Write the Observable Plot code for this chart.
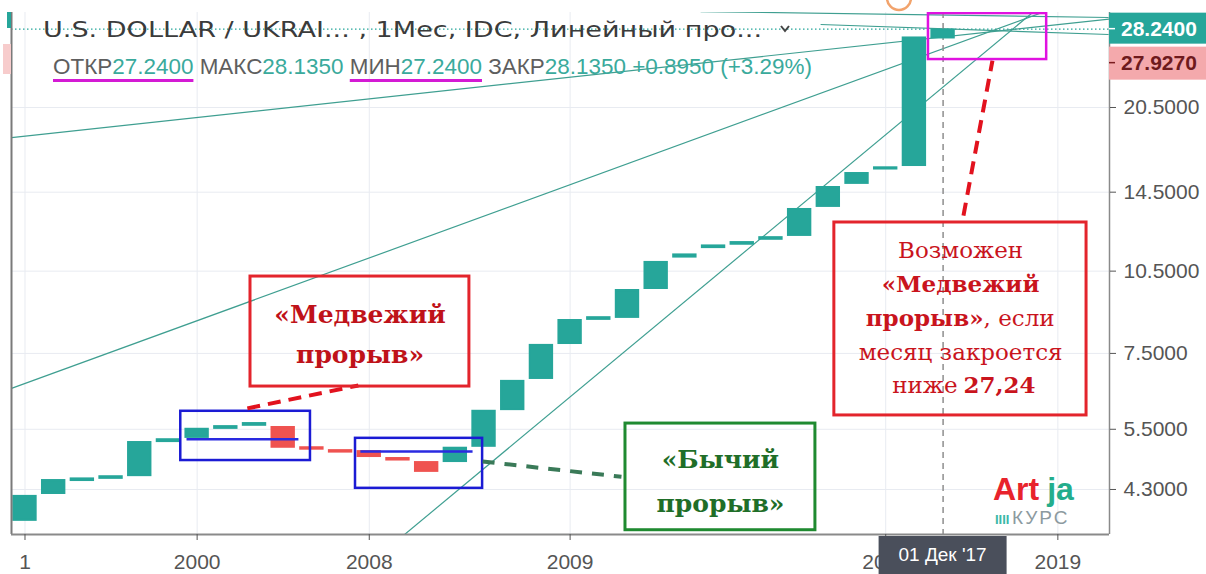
<!DOCTYPE html>
<html>
<head>
<meta charset="utf-8">
<script src="https://cdn.jsdelivr.net/npm/d3@7"></script>
<script src="https://cdn.jsdelivr.net/npm/@observablehq/plot@0.6"></script>
<style>
html, body { margin: 0; padding: 0; background: #ffffff; }
#chart { width: 1206px; height: 574px; overflow: hidden; }
</style>
</head>
<body>
<div id="chart"></div>
<script>
// ---------------- data ----------------
const brickIndex = [0,1,2,3,4,5,6,7,8,9,10,11,12,13,14,15,16,17,18,19,20,21,22,23,24,25,26,27,28,29,30,31,32];
const brickOpen  = [3.79,4.23,4.46,4.50,4.55,5.23,5.32,5.52,5.59,5.54,5.10,5.04,5.02,4.88,4.80,4.82,5.13,5.96,6.77,7.81,8.62,8.69,9.78,11.12,11.56,11.72,11.96,12.15,13.68,15.03,15.94,16.17,27.24];
const brickClose = [4.18,4.46,4.49,4.53,5.21,5.27,5.50,5.56,5.63,5.11,5.07,5.01,4.92,4.85,4.63,5.09,5.92,6.69,7.75,8.58,8.68,9.70,10.88,11.22,11.64,11.80,12.04,13.51,14.78,15.65,16.02,27.24,28.135];

const yTickValues = [4.3, 5.5, 7.5, 10.5, 14.5, 20.5];
const xTickPos    = [0, 6, 12, 19, 30, 36];
const xTickLabels = ["1", "2000", "2008", "2009", "2015", "2019"];

const lastPrice  = 28.24;
const markPrice  = 27.927;
const crossIdx   = 32;
const crossLabel = "01 Дек '17";

const legendTitle  = "U.S. DOLLAR / UKRAI... , 1Мес, IDC, Линейный про...";
const legendNames  = ["ОТКР", "МАКС", "МИН", "ЗАКР"];
const legendValues = ["27.2400", "28.1350", "27.2400", "28.1350"];
const legendChange = "+0.8950 (+3.29%)";

// trend lines: [index1, price1, index2, price2]
const trendLines = [
  [-0.47, 18.13, 37.80, 29.44],
  [-0.47, 6.50, 35.74, 30.6],
  [12.74, 3.41, 35.40, 31.06],
  [23.55, 30.35, 37.77, 29.62],
  [27.73, 28.78, 37.77, 27.63]
];

// annotation boxes: [index1, index2, price1, price2]
const redBoxes     = [[7.86, 15.49, 6.55, 10.27], [28.21, 37.00, 5.82, 12.81]];
const greenBoxes   = [[20.93, 27.55, 3.64, 5.63]];
const blueBoxes    = [[5.43, 9.95, 4.84, 5.92], [11.52, 15.95, 4.32, 5.30]];
const magentaBoxes = [[31.49, 35.61, 24.94, 30.1]];

// annotation segments: [index1, price1, index2, price2]
const blueSegments  = [[5.63, 5.28, 9.53, 5.28], [11.69, 5.02, 15.6, 5.02]];
const redDashes     = [[7.75, 5.99, 11.62, 6.58], [32.71, 13.18, 33.72, 24.84]];
const greenDashes   = [[15.95, 4.82, 20.79, 4.53]];

// annotation texts: [text, index, price]
const bearLabel = [["«Медвежий\nпрорыв»", 11.68, 8.24]];
const bullLabel = [["«Бычий\nпрорыв»", 24.24, 4.55]];
const noteMidRegular  = [["Возможен", 32.61, 11.42], ["месяц закроется", 32.61, 7.53]];
const noteMidBold     = [["«Медвежий", 32.61, 9.94]];
const noteEndBold     = [["прорыв»", 33.41, 8.65]];
const noteStartRegular= [[", если", 33.41, 8.65]];
const noteEndRegular  = [["ниже", 32.61, 6.58]];
const noteStartBold   = [["27,24", 32.61, 6.58]];

// ---------------- chart ----------------
const xDomain = [-0.47, 37.80];
const yDomain = [3.577, 30.23];
const teal = "#26a69a", red = "#ef5350";
const bricks = brickIndex.map((i, k) => ({i, open: brickOpen[k], close: brickClose[k]}));
const upBricks = bricks.filter(d => d.close >= d.open);
const downBricks = bricks.filter(d => d.close < d.open);
const hw = 0.39;
const seg = a => a.map(r => ({x1: r[0], y1: r[1], x2: r[2], y2: r[3]}));
const box = a => a.map(r => ({x1: r[0], x2: r[1], y1: r[2], y2: r[3]}));
const txt = a => a.map(r => ({t: r[0], x: r[1], y: r[2]}));
const serif = "'DejaVu Serif', serif";
const noteRed = "#c9141d";

const plot = Plot.plot({
  width: 1206, height: 574,
  marginLeft: 11, marginRight: 97, marginTop: 12, marginBottom: 40,
  style: {fontFamily: "'Liberation Sans', Arial, sans-serif", fontSize: "21px", background: "#ffffff", color: "#555"},
  x: {domain: xDomain},
  y: {type: "log", domain: yDomain},
  marks: [
    Plot.gridY(yTickValues, {stroke: "#e8ebf1", strokeOpacity: 1}),
    Plot.gridX(xTickPos, {stroke: "#e8ebf1", strokeOpacity: 1}),
    Plot.ruleY([lastPrice], {stroke: teal, strokeWidth: 1.2, strokeDasharray: "1.5,2.5"}),
    Plot.link(seg(trendLines), {x1: "x1", y1: "y1", x2: "x2", y2: "y2", stroke: "#3f9f91", strokeWidth: 1.2, clip: true}),
    Plot.ruleX([crossIdx], {stroke: "#8e8e8e", strokeWidth: 1.5, strokeDasharray: "6,5"}),
    Plot.rect(upBricks, {x1: d => d.i - hw, x2: d => d.i + hw, y1: "open", y2: "close", fill: teal, stroke: teal, strokeWidth: 2}),
    Plot.rect(downBricks, {x1: d => d.i - hw, x2: d => d.i + hw, y1: "open", y2: "close", fill: red, stroke: red, strokeWidth: 2}),
    Plot.link(seg(blueSegments), {x1: "x1", y1: "y1", x2: "x2", y2: "y2", stroke: "#2a2ae0", strokeWidth: 2.5}),
    Plot.rect(box(blueBoxes), {x1: "x1", x2: "x2", y1: "y1", y2: "y2", fill: "none", stroke: "#1b1bd4", strokeWidth: 2.5}),
    Plot.link(seg(redDashes), {x1: "x1", y1: "y1", x2: "x2", y2: "y2", stroke: "#e2121e", strokeWidth: 4, strokeDasharray: "13,8"}),
    Plot.link(seg(greenDashes), {x1: "x1", y1: "y1", x2: "x2", y2: "y2", stroke: "#3a7a58", strokeWidth: 4, strokeDasharray: "12,10"}),
    Plot.rect(box(redBoxes), {x1: "x1", x2: "x2", y1: "y1", y2: "y2", fill: "none", stroke: "#e3242c", strokeWidth: 3}),
    Plot.rect(box(greenBoxes), {x1: "x1", x2: "x2", y1: "y1", y2: "y2", fill: "none", stroke: "#1f8a30", strokeWidth: 3}),
    Plot.rect(box(magentaBoxes), {x1: "x1", x2: "x2", y1: "y1", y2: "y2", fill: "none", stroke: "#e012e0", strokeWidth: 2.5, clip: true}),
    Plot.text(txt(bearLabel), {x: "x", y: "y", text: "t", fontFamily: serif, fontWeight: "bold", fontSize: 25, fill: "#bf1219", lineHeight: 1.6}),
    Plot.text(txt(bullLabel), {x: "x", y: "y", text: "t", fontFamily: serif, fontWeight: "bold", fontSize: 25, fill: "#1f6e28", lineHeight: 1.75}),
    Plot.text(txt(noteMidRegular), {x: "x", y: "y", text: "t", fontFamily: serif, fontSize: 23, fill: noteRed}),
    Plot.text(txt(noteMidBold), {x: "x", y: "y", text: "t", fontFamily: serif, fontWeight: "bold", fontSize: 23, fill: noteRed}),
    Plot.text(txt(noteEndBold), {x: "x", y: "y", text: "t", fontFamily: serif, fontWeight: "bold", fontSize: 23, fill: noteRed, textAnchor: "end"}),
    Plot.text(txt(noteStartRegular), {x: "x", y: "y", text: "t", fontFamily: serif, fontSize: 23, fill: noteRed, textAnchor: "start"}),
    Plot.text(txt(noteEndRegular), {x: "x", y: "y", text: "t", fontFamily: serif, fontSize: 23, fill: noteRed, textAnchor: "end", dx: -3}),
    Plot.text(txt(noteStartBold), {x: "x", y: "y", text: "t", fontFamily: serif, fontWeight: "bold", fontSize: 23, fill: noteRed, textAnchor: "start", dx: 3}),
    Plot.ruleX([xDomain[0]], {stroke: "#7a7a7a", strokeWidth: 2}),
    Plot.ruleX([xDomain[1]], {stroke: "#8a8a8a", strokeWidth: 1.5}),
    Plot.ruleY([yDomain[0]], {stroke: "#8a8a8a", strokeWidth: 2}),
    Plot.axisY(yTickValues, {anchor: "right", tickSize: 6, tickPadding: 8, tickFormat: d => d.toFixed(4), fontSize: 21, color: "#555"}),
    Plot.axisX(xTickPos, {anchor: "bottom", tickSize: 6, tickPadding: 14, tickFormat: d => xTickLabels[xTickPos.indexOf(d)], fontSize: 21, color: "#555"})
  ]
});
document.getElementById("chart").appendChild(plot);

// ---------------- overlays (legend, price labels, crosshair label) ----------------
const svg = d3.select(plot);
const xs = plot.scale("x"), ys = plot.scale("y");
const ov = svg.append("g").attr("text-anchor", "start");

// left-edge scale markers
ov.append("rect").attr("x", 7).attr("y", 12).attr("width", 4).attr("height", 16).attr("fill", teal);
ov.append("rect").attr("x", 3).attr("y", 44).attr("width", 8).attr("height", 30).attr("fill", "#f7cccc");

// legend title
ov.append("text").attr("x", 43).attr("y", 37).attr("text-anchor", "start")
  .attr("font-family", "'DejaVu Sans', sans-serif").attr("font-size", 22).attr("fill", "#3b3b3b")
  .attr("textLength", 719).attr("lengthAdjust", "spacingAndGlyphs")
  .text(legendTitle);
ov.append("polyline").attr("points", "781,26 785,31 789,26").attr("fill", "none").attr("stroke", "#444").attr("stroke-width", 2);

// legend values line
const lt = ov.append("text").attr("x", 53).attr("y", 74).attr("text-anchor", "start")
  .attr("font-family", "'Liberation Sans', sans-serif").attr("font-size", 22)
  .attr("textLength", 759).attr("lengthAdjust", "spacingAndGlyphs");
legendNames.forEach((n, k) => {
  lt.append("tspan").attr("fill", "#5e5e5e").text((k ? " " : "") + n);
  lt.append("tspan").attr("fill", "#3aaa9c").text(legendValues[k]);
});
lt.append("tspan").attr("fill", "#3aaa9c").text(" " + legendChange);
// underline OTKP and MIN groups
const ltn = lt.node();
[0, 2].forEach(k => {
  const s = legendNames.slice(0, k).map((n, j) => n + legendValues[j]).join(" ").length + (k ? 1 : 0);
  const e = s + legendNames[k].length + legendValues[k].length - 1;
  const a = ltn.getExtentOfChar(s), b = ltn.getExtentOfChar(e);
  ov.append("line").attr("x1", a.x).attr("x2", b.x + b.width).attr("y1", 80.5).attr("y2", 80.5)
    .attr("stroke", "#d41ad4").attr("stroke-width", 3);
});

// alert icon (partially visible)
ov.append("circle").attr("cx", 899).attr("cy", -2).attr("r", 12).attr("fill", "none").attr("stroke", "#f2a36c").attr("stroke-width", 2.5);

// right price labels
const xr = xs.apply(xDomain[1]);
const yl = ys.apply(lastPrice);
ov.append("rect").attr("x", xr).attr("y", yl - 16).attr("width", 1206 - xr).attr("height", 31).attr("fill", teal);
ov.append("line").attr("x1", xr).attr("x2", xr + 6).attr("y1", yl).attr("y2", yl).attr("stroke", "#fff").attr("stroke-width", 1.5);
ov.append("text").attr("x", xr + 12).attr("y", yl + 7.5).attr("fill", "#ffffff").attr("text-anchor", "start")
  .attr("font-family", "'Liberation Sans', sans-serif").attr("font-size", 21).attr("font-weight", "bold")
  .text(lastPrice.toFixed(4));
const ym = yl + 34;
ov.append("rect").attr("x", xr).attr("y", ym - 16).attr("width", 1206 - xr).attr("height", 33).attr("fill", "#f4a9ac");
ov.append("line").attr("x1", xr).attr("x2", xr + 6).attr("y1", ym).attr("y2", ym).attr("stroke", "#7a1c1f").attr("stroke-width", 1.5);
ov.append("text").attr("x", xr + 12).attr("y", ym + 7.5).attr("fill", "#6e1a1d").attr("text-anchor", "start")
  .attr("font-family", "'Liberation Sans', sans-serif").attr("font-size", 21).attr("font-weight", "bold")
  .text(markPrice.toFixed(4));

// crosshair date label
const xc = xs.apply(crossIdx);
ov.append("rect").attr("x", xc - 64).attr("y", 536).attr("width", 128).attr("height", 38).attr("fill", "#4a4f5b");
ov.append("text").attr("x", xc).attr("y", 561).attr("text-anchor", "middle").attr("fill", "#ffffff")
  .attr("font-family", "'Liberation Sans', sans-serif").attr("font-size", 19)
  .text(crossLabel);

// watermark
const wm = ov.append("text").attr("x", 993).attr("y", 500).attr("text-anchor", "start")
  .attr("font-family", "'Liberation Sans Narrow', 'Liberation Sans', sans-serif").attr("font-weight", "bold").attr("font-size", 32);
wm.append("tspan").attr("fill", "#e8232c").text("Art");
wm.append("tspan").attr("fill", "#24ad8c").attr("dx", 8).text("ja");
ov.append("text").attr("x", 995).attr("y", 524).attr("fill", "#3cb8a8").attr("text-anchor", "start")
  .attr("font-family", "'Liberation Sans', sans-serif").attr("font-size", 13).attr("font-weight", "bold").text("IIII");
ov.append("text").attr("x", 1012).attr("y", 524).attr("fill", "#8c9aa0").attr("text-anchor", "start")
  .attr("font-family", "'Liberation Sans', sans-serif").attr("font-size", 19).attr("letter-spacing", 2).text("КУРС");
</script>
</body>
</html>
